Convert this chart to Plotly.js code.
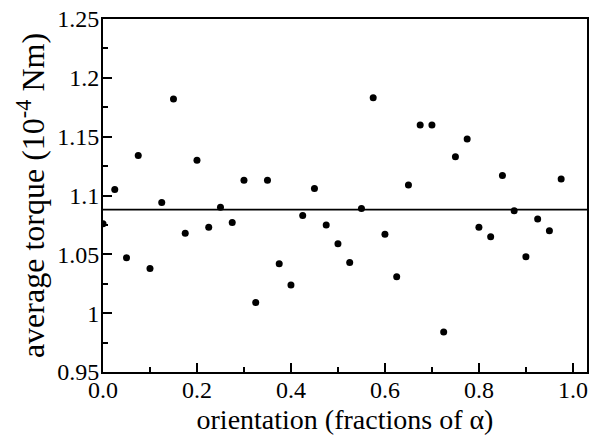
<!DOCTYPE html>
<html>
<head>
<meta charset="utf-8">
<script src="https://cdn.plot.ly/plotly-3.0.1.min.js"></script>
<style>html,body{margin:0;padding:0;background:#fff;}#chart{width:589px;height:435px;}</style>
</head>
<body>
<div id="chart"></div>
<script>
var orientation = [0.000,0.025,0.050,0.075,0.100,0.125,0.150,0.175,0.200,0.225,
                   0.250,0.275,0.300,0.325,0.350,0.375,0.400,0.425,0.450,0.475,
                   0.500,0.525,0.550,0.575,0.600,0.625,0.650,0.675,0.700,0.725,
                   0.750,0.775,0.800,0.825,0.850,0.875,0.900,0.925,0.950,0.975];
var torque = [1.076,1.105,1.047,1.134,1.038,1.094,1.182,1.068,1.130,1.073,
              1.090,1.077,1.113,1.009,1.113,1.042,1.024,1.083,1.106,1.075,
              1.059,1.043,1.089,1.183,1.067,1.031,1.109,1.160,1.160,0.984,
              1.133,1.148,1.073,1.065,1.117,1.087,1.048,1.080,1.070,1.114];
var meanTorque = 1.088;
var xTitle = 'orientation (fractions of \u03b1)';
var yTitle = 'average torque (10<sup>-4</sup> Nm)';

var FONT = 'Liberation Serif';

var data = [{
  x: orientation,
  y: torque,
  type: 'scatter',
  mode: 'markers',
  marker: {color: '#000', size: 7},
  hoverinfo: 'x+y'
}];

var layout = {
  width: 589,
  height: 435,
  margin: {l: 103, r: 2, t: 19, b: 63},
  paper_bgcolor: '#fff',
  plot_bgcolor: '#fff',
  showlegend: false,
  font: {family: FONT, color: '#000', size: 24},
  xaxis: {
    range: [0, 1.03],
    dtick: 0.2,
    tick0: 0,
    tickformat: '.1f',
    ticks: 'inside',
    ticklen: 9,
    tickwidth: 2,
    tickcolor: '#000',
    showline: true,
    linewidth: 2,
    linecolor: '#000',
    mirror: true,
    showgrid: false,
    zeroline: false,
    ticklabelstandoff: -5,
    tickfont: {size: 24, family: FONT},
    minor: {ticks: 'inside', ticklen: 5, tickwidth: 2, tickcolor: '#000', dtick: 0.1, showgrid: false},
    title: {text: xTitle, font: {size: 28, family: FONT}, standoff: 10}
  },
  yaxis: {
    range: [0.95, 1.25],
    dtick: 0.05,
    tick0: 0.95,
    ticks: 'inside',
    ticklen: 9,
    tickwidth: 2,
    tickcolor: '#000',
    showline: true,
    linewidth: 2,
    linecolor: '#000',
    mirror: true,
    showgrid: false,
    zeroline: false,
    ticklabelstandoff: -3,
    tickfont: {size: 24, family: FONT},
    minor: {ticks: 'inside', ticklen: 5, tickwidth: 2, tickcolor: '#000', dtick: 0.025, showgrid: false},
    title: {text: yTitle, font: {size: 32, family: FONT}, standoff: 3}
  },
  shapes: [{
    type: 'line', xref: 'paper', yref: 'y',
    x0: 0, x1: 1, y0: meanTorque, y1: meanTorque,
    line: {color: '#000', width: 1.8}
  }]
};

Plotly.newPlot('chart', data, layout, {displayModeBar: false, staticPlot: true});
</script>
</body>
</html>
